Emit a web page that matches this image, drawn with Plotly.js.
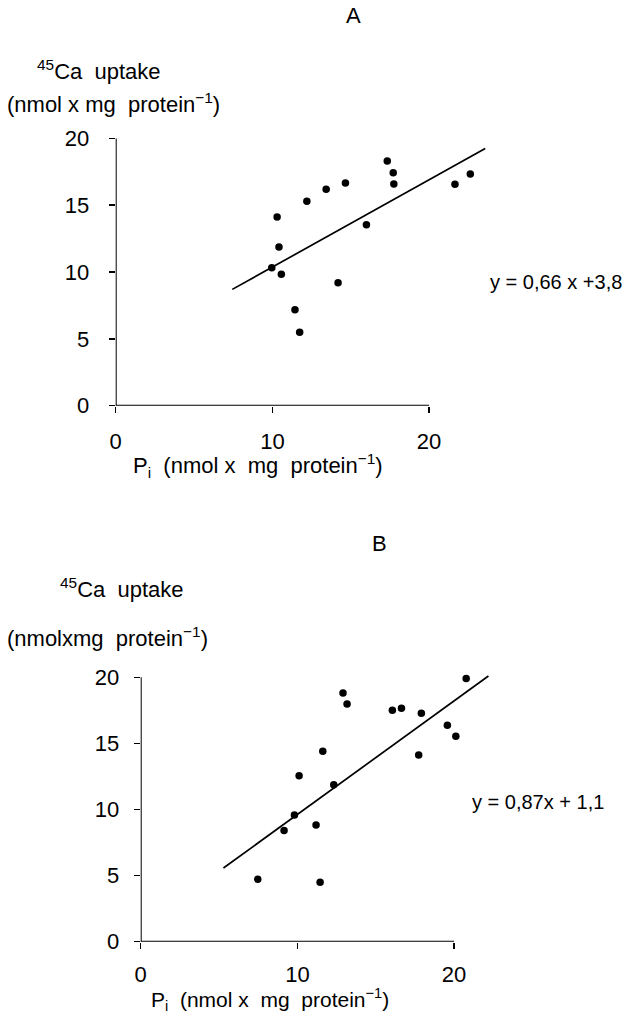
<!DOCTYPE html>
<html>
<head>
<meta charset="utf-8">
<script src="https://cdn.plot.ly/plotly-3.0.1.min.js"></script>
<style>html,body{margin:0;padding:0;background:#fff;}#chart{width:629px;height:1025px;}</style>
</head>
<body>
<div id="chart"></div>
<script>
// Panel A data
const piA = [9.96, 10.30, 10.42, 10.57, 11.44, 11.74, 12.20, 13.43, 14.19, 14.66, 16.00, 17.33, 17.71, 17.75, 21.65, 22.63];
const caA = [10.32, 14.11, 11.87, 9.83, 7.18, 5.49, 15.29, 16.18, 9.20, 16.66, 13.54, 18.30, 17.43, 16.58, 16.56, 17.33];
const fitAx = [7.44, 23.58];
const fitAy = [8.70, 19.23];
const eqA = "y = 0,66 x +3,8";

// Panel B data
const piB = [7.47, 9.15, 9.81, 10.11, 11.19, 11.45, 11.62, 12.32, 12.91, 13.17, 16.06, 16.64, 17.74, 17.91, 19.57, 20.11, 20.77];
const caB = [4.72, 8.42, 9.58, 12.56, 8.83, 4.49, 14.40, 11.88, 18.81, 17.98, 17.50, 17.65, 14.12, 17.28, 16.37, 15.54, 19.90];
const fitBx = [5.28, 22.19];
const fitBy = [5.57, 20.10];
const eqB = "y = 0,87x + 1,1";

const xTicks = [0, 10, 20];
const yTicks = [0, 5, 10, 15, 20];
const panelLabels = ["A", "B"];
const yTitle1 = "<sup>45</sup>Ca  uptake";
const yTitle2A = "(nmol x mg  protein<sup>−1</sup>)";
const yTitle2B = "(nmolxmg  protein<sup>−1</sup>)";
const xTitle = "P<sub>i</sub>  (nmol x  mg  protein<sup>−1</sup>)";

const FONT = "Liberation Sans, Arial, sans-serif";
const FS = 22;
const W = 629, H = 1025;
const px = v => v / W;
const py = v => 1 - v / H;

const marker = {color: "#000", size: 7.5};
const traces = [
  {x: piA, y: caA, type: "scatter", mode: "markers", marker: marker, xaxis: "x", yaxis: "y", cliponaxis: false},
  {x: fitAx, y: fitAy, type: "scatter", mode: "lines", line: {color: "#000", width: 1.7}, xaxis: "x", yaxis: "y"},
  {x: piB, y: caB, type: "scatter", mode: "markers", marker: marker, xaxis: "x2", yaxis: "y2", cliponaxis: false},
  {x: fitBx, y: fitBy, type: "scatter", mode: "lines", line: {color: "#000", width: 1.7}, xaxis: "x2", yaxis: "y2"}
];

function xax(domain, anchor, standoff) {
  return {domain: domain, anchor: anchor, range: [0, 24], showgrid: false, zeroline: false, showline: false,
    tickmode: "array", tickvals: xTicks, ticktext: xTicks.map(String),
    ticks: "outside", ticklen: 6, tickwidth: 1.5, tickcolor: "#000",
    ticklabelstandoff: standoff, tickfont: {family: FONT, size: FS, color: "#000"}, fixedrange: true};
}
function yax(domain, anchor, range, standoff) {
  return {domain: domain, anchor: anchor, range: range, showgrid: false, zeroline: false, showline: false,
    tickmode: "array", tickvals: yTicks, ticktext: yTicks.map(String),
    ticks: "outside", ticklen: 6, tickwidth: 1.5, tickcolor: "#000",
    ticklabelstandoff: standoff, tickfont: {family: FONT, size: FS, color: "#000"}, fixedrange: true};
}

const axisLine = {color: "#000", width: 2};
const shapes = [
  {type: "line", xref: "x", yref: "y", x0: 0, x1: xTicks[xTicks.length-1], y0: 0, y1: 0, line: axisLine},
  {type: "line", xref: "x", yref: "y", x0: 0, x1: 0, y0: 0, y1: yTicks[yTicks.length-1], line: axisLine},
  {type: "line", xref: "x2", yref: "y2", x0: 0, x1: xTicks[xTicks.length-1], y0: 0, y1: 0, line: axisLine},
  {type: "line", xref: "x2", yref: "y2", x0: 0, x1: 0, y0: 0, y1: yTicks[yTicks.length-1], line: axisLine}
];

function ann(text, x, y, xanchor, size) {
  return {text: text, xref: "paper", yref: "paper", x: px(x), y: py(y), xanchor: xanchor || "left", yanchor: "middle",
    showarrow: false, font: {family: FONT, size: size || FS, color: "#000"}};
}
const annotations = [
  ann(panelLabels[0], 353, 15, "center"),
  ann(yTitle1, 35, 70),
  ann(yTitle2A, 5, 103),
  ann(xTitle, 131, 466),
  ann(eqA, 624, 282, "right", 20),
  ann(panelLabels[1], 379, 543, "center"),
  ann(yTitle1, 58, 588),
  ann(yTitle2B, 5, 637),
  ann(xTitle, 149, 999, "left", 21),
  ann(eqB, 606, 802, "right", 20)
];

const layout = {
  width: W, height: H, margin: {l: 0, r: 0, t: 0, b: 0},
  paper_bgcolor: "#fff", plot_bgcolor: "rgba(0,0,0,0)", showlegend: false,
  font: {family: FONT, color: "#000"},
  xaxis: xax([px(115.7), px(115.7 + 24 * 15.67)], "y", 10),
  yaxis: yax([py(405.7), py(138.3)], "x", [0, 20], 15),
  xaxis2: xax([px(140.7), px(140.7 + 24 * 15.67)], "y2", 7),
  yaxis2: yax([py(941.7), py(941.7 - 20.5 * 13.22)], "x2", [0, 20.5], 10),
  shapes: shapes,
  annotations: annotations
};

Plotly.newPlot("chart", traces, layout, {staticPlot: true, displayModeBar: false});
</script>
</body>
</html>
